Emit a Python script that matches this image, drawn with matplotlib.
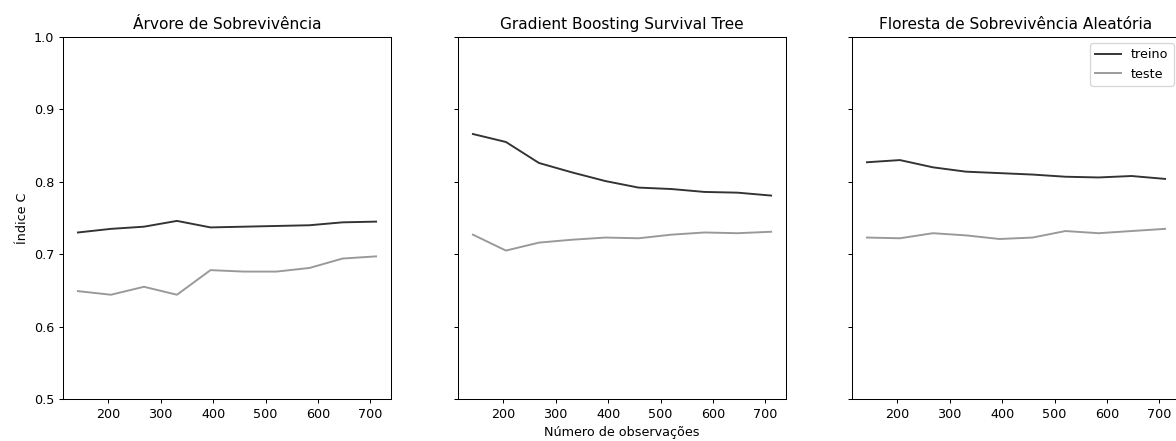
import matplotlib
matplotlib.use("Agg")
import matplotlib.pyplot as plt
import numpy as np

# tamanhos de treino usados na curva de aprendizado
n_obs = [142, 205, 268, 331, 395, 458, 521, 584, 647, 711]

titles = ["Árvore de Sobrevivência",
          "Gradient Boosting Survival Tree",
          "Floresta de Sobrevivência Aleatória"]

# índice C médio por modelo
arvore_treino = [0.730, 0.735, 0.738, 0.746, 0.737, 0.738, 0.739, 0.740, 0.744, 0.745]
arvore_teste = [0.649, 0.644, 0.655, 0.644, 0.678, 0.676, 0.676, 0.681, 0.694, 0.697]

gbst_treino = [0.866, 0.855, 0.826, 0.813, 0.801, 0.792, 0.790, 0.786, 0.785, 0.781]
gbst_teste = [0.727, 0.705, 0.716, 0.720, 0.723, 0.722, 0.727, 0.730, 0.729, 0.731]

rsf_treino = [0.827, 0.830, 0.820, 0.814, 0.812, 0.810, 0.807, 0.806, 0.808, 0.804]
rsf_teste = [0.723, 0.722, 0.729, 0.726, 0.721, 0.723, 0.732, 0.729, 0.732, 0.735]

treino = [arvore_treino, gbst_treino, rsf_treino]
teste = [arvore_teste, gbst_teste, rsf_teste]

W, H = 1176, 441
DPI = 92
fig = plt.figure(figsize=(W / DPI, H / DPI), dpi=DPI)

# posições dos eixos em pixels: (esquerda, largura)
lefts = [63, 458, 852]
width = 328
top, bottom = 37, 399

axes = []
for i in range(3):
    rect = [lefts[i] / W, 1 - bottom / H, width / W, (bottom - top) / H]
    ax = fig.add_axes(rect, sharey=axes[0] if axes else None)
    ax.plot(n_obs, treino[i], color="k", alpha=0.8, lw=1.5, label="treino")
    ax.plot(n_obs, teste[i], color="gray", alpha=0.8, lw=1.5, label="teste")
    ax.set_title(titles[i])
    ax.set_ylim(0.5, 1.0)
    ax.set_xticks([200, 300, 400, 500, 600, 700])
    if i > 0:
        ax.tick_params(labelleft=False)
    axes.append(ax)

axes[0].set_ylabel("Índice C")
axes[1].set_xlabel("Número de observações")
axes[2].legend(loc="upper right")

fig.savefig("out.png", dpi=DPI)
